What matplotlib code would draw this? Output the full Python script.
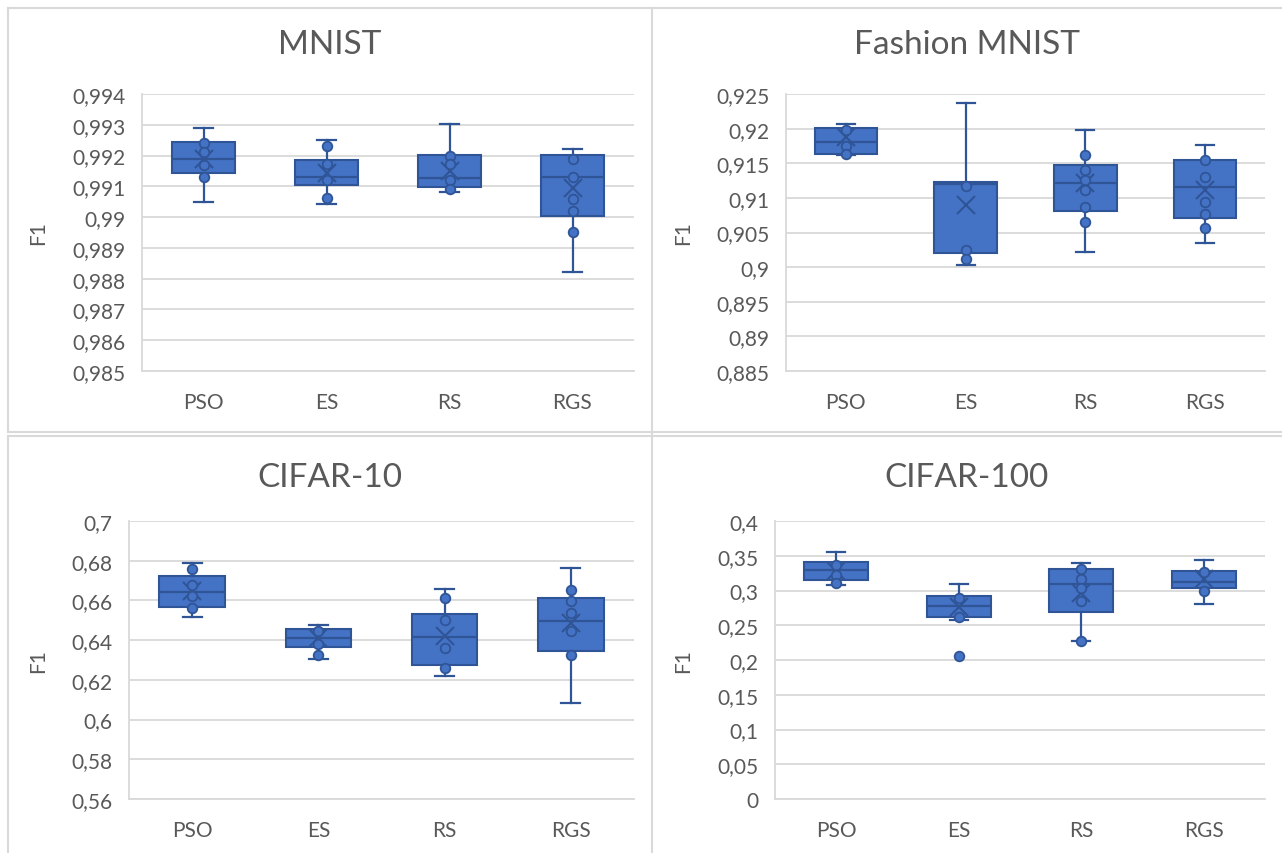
import matplotlib
matplotlib.use("Agg")
import matplotlib.pyplot as plt
from matplotlib.lines import Line2D
from matplotlib.ticker import FuncFormatter, MultipleLocator

plt.rcParams['font.family'] = ['Lato', 'DejaVu Sans']

methods = ["PSO", "ES", "RS", "RGS"]

# box stats per method: whisker low, q1, median, q3, whisker high, mean
mnist_whislo = [0.99050, 0.99041, 0.99081, 0.98821]
mnist_q1 = [0.99144, 0.99103, 0.99097, 0.99003]
mnist_med = [0.99190, 0.99130, 0.99127, 0.99131]
mnist_q3 = [0.99244, 0.99186, 0.99203, 0.99202]
mnist_whishi = [0.99291, 0.99250, 0.99301, 0.99220]
mnist_mean = [0.99190, 0.99143, 0.99149, 0.99095]
mnist_points = [
    [0.99240, 0.99210, 0.99170, 0.99130],
    [0.99231, 0.99171, 0.99122, 0.99061],
    [0.99200, 0.99171, 0.99122, 0.99090],
    [0.99190, 0.99130, 0.99060, 0.99019, 0.98950],
]

fashion_whislo = [0.91620, 0.90024, 0.90221, 0.90355]
fashion_q1 = [0.91627, 0.90206, 0.90811, 0.90710]
fashion_med = [0.91814, 0.91200, 0.91219, 0.91152]
fashion_q3 = [0.92011, 0.91228, 0.91468, 0.91545]
fashion_whishi = [0.92073, 0.92370, 0.91982, 0.91761]
fashion_mean = [0.91876, 0.90902, 0.91214, 0.91118]
fashion_points = [
    [0.91982, 0.91756, 0.91627],
    [0.91171, 0.90245, 0.90120],
    [0.91612, 0.91396, 0.91252, 0.91113, 0.90873, 0.90647],
    [0.91545, 0.91296, 0.90936, 0.90763, 0.90571],
]

cifar10_whislo = [0.65189, 0.63070, 0.62195, 0.60850]
cifar10_q1 = [0.65660, 0.63642, 0.62750, 0.63440]
cifar10_med = [0.66417, 0.64130, 0.64180, 0.64970]
cifar10_q3 = [0.67225, 0.64550, 0.65307, 0.66131]
cifar10_whishi = [0.67881, 0.64752, 0.66585, 0.67611]
cifar10_mean = [0.66485, 0.64130, 0.64214, 0.64887]
cifar10_points = [
    [0.67595, 0.66787, 0.66232, 0.65610],
    [0.64466, 0.63810, 0.63255],
    [0.66114, 0.65004, 0.63591, 0.62599],
    [0.66535, 0.65980, 0.65357, 0.64466, 0.63238],
]

cifar100_whislo = [0.30721, 0.25817, 0.22692, 0.28077]
cifar100_q1 = [0.31538, 0.26202, 0.26923, 0.30337]
cifar100_med = [0.32885, 0.27837, 0.30865, 0.31202]
cifar100_q3 = [0.34038, 0.29183, 0.33029, 0.32788]
cifar100_whishi = [0.35529, 0.30865, 0.33990, 0.34327]
cifar100_mean = [0.32837, 0.27692, 0.29712, 0.31635]
cifar100_points = [
    [0.33702, 0.32212, 0.31106],
    [0.28990, 0.26250, 0.20577],
    [0.33029, 0.31635, 0.30385, 0.28510, 0.22692],
    [0.32644, 0.29952],
]

W, H = 1282, 854
fig = plt.figure(figsize=(W / 100, H / 100), dpi=100)

fill = "#4472C4"
edge = "#2F5597"
grey_txt = "#595959"
grid_c = "#D9D9D9"


def fmt(v, pos):
    s = "%.4f" % v
    s = s.rstrip("0").rstrip(".")
    if s == "":
        s = "0"
    return s.replace(".", ",")


def px_axes(x0, x1, ytop, ybot):
    return fig.add_axes([x0 / W, 1 - ybot / H, (x1 - x0) / W, (ybot - ytop) / H])


def panel(ax, title, title_xy, ylab_x, whislo, q1, med, q3, whishi, mean, points, ylim, step):
    stats = []
    for i in range(len(methods)):
        stats.append(dict(label=methods[i], whislo=whislo[i], q1=q1[i], med=med[i],
                          q3=q3[i], whishi=whishi[i], mean=mean[i], fliers=[]))
    pos = list(range(1, len(methods) + 1))
    ax.bxp(stats, positions=pos, widths=0.52, patch_artist=True, showmeans=True,
           showfliers=False,
           boxprops=dict(facecolor=fill, edgecolor=edge, linewidth=1.5),
           medianprops=dict(color=edge, linewidth=1.6),
           whiskerprops=dict(color=edge, linewidth=1.6),
           capprops=dict(color=edge, linewidth=1.6),
           capwidths=0.15,
           meanprops=dict(marker="x", markeredgecolor=edge, markersize=13,
                          markeredgewidth=1.5), zorder=3)
    for i, pts in enumerate(points):
        ax.scatter([pos[i]] * len(pts), pts, s=48, color=fill, edgecolors=edge,
                   linewidths=1.3, zorder=4)
    ax.set_xlim(0.5, len(methods) + 0.5)
    ax.set_ylim(*ylim)
    ax.yaxis.set_major_locator(MultipleLocator(step))
    ax.yaxis.set_major_formatter(FuncFormatter(fmt))
    ax.grid(axis="y", color=grid_c, linewidth=1.3)
    ax.set_axisbelow(True)
    for s in ["top", "right"]:
        ax.spines[s].set_visible(False)
    for s in ["left", "bottom"]:
        ax.spines[s].set_color(grid_c)
        ax.spines[s].set_linewidth(1.3)
    ax.tick_params(length=0, labelsize=15, labelcolor=grey_txt)
    ax.tick_params(axis="x", pad=15)
    ax.tick_params(axis="y", pad=12)
    ax.set_xticks(pos)
    ax.set_xticklabels(methods)
    fig.text(title_xy[0] / W, 1 - title_xy[1] / H, title, ha="center", va="center",
             fontsize=24, color=grey_txt)
    yc = ax.get_position().y0 + ax.get_position().height / 2
    fig.text(ylab_x / W, yc, "F1", rotation=90, ha="center", va="center",
             fontsize=15, color=grey_txt)


ax1 = px_axes(142, 634, 95, 372)
panel(ax1, "MNIST", (330, 45), 38, mnist_whislo, mnist_q1, mnist_med, mnist_q3,
      mnist_whishi, mnist_mean, mnist_points, (0.985, 0.994), 0.001)

ax2 = px_axes(786, 1265, 95, 372)
panel(ax2, "Fashion MNIST", (967, 45), 683, fashion_whislo, fashion_q1, fashion_med,
      fashion_q3, fashion_whishi, fashion_mean, fashion_points, (0.885, 0.925), 0.005)

ax3 = px_axes(129, 634, 522, 800)
panel(ax3, "CIFAR-10", (330, 478), 38, cifar10_whislo, cifar10_q1, cifar10_med,
      cifar10_q3, cifar10_whishi, cifar10_mean, cifar10_points, (0.56, 0.70), 0.02)

ax4 = px_axes(775, 1265, 522, 800)
panel(ax4, "CIFAR-100", (967, 478), 683, cifar100_whislo, cifar100_q1, cifar100_med,
      cifar100_q3, cifar100_whishi, cifar100_mean, cifar100_points, (0.0, 0.4), 0.05)

# panel borders
def hline(y, x0, x1):
    fig.add_artist(Line2D([x0 / W, x1 / W], [1 - y / H, 1 - y / H], color=grid_c, lw=1.5))


def vline(x, y0, y1):
    fig.add_artist(Line2D([x / W, x / W], [1 - y0 / H, 1 - y1 / H], color=grid_c, lw=1.5))


hline(9, 8, 651)
hline(9, 653, W)
hline(433, 8, W)
hline(437, 8, W)
vline(8, 9, 433)
vline(8, 437, H)
vline(651.5, 9, H)

fig.savefig("out.png", dpi=100, facecolor="white")
